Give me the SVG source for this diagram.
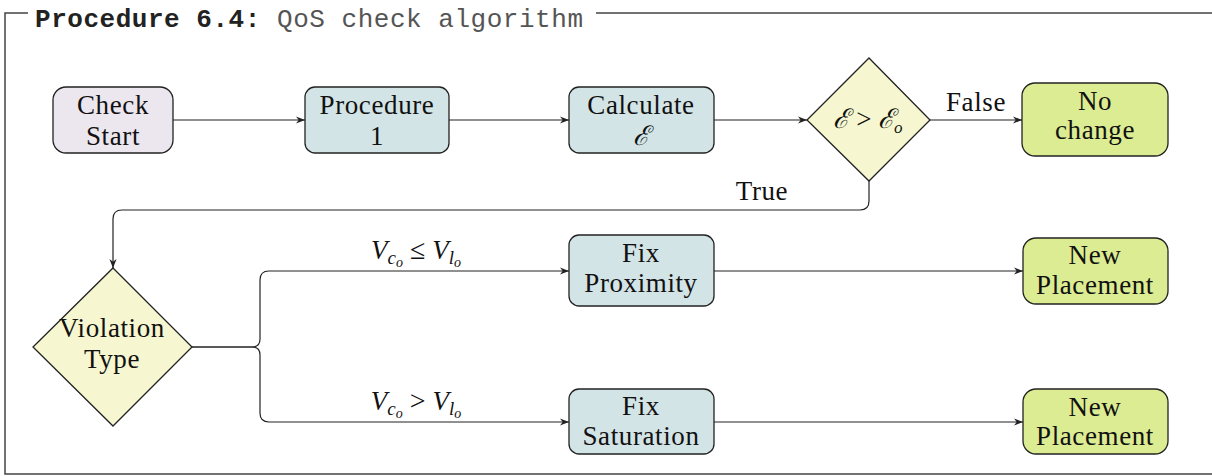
<svg xmlns="http://www.w3.org/2000/svg" width="1212" height="476" viewBox="0 0 1212 476">
<defs>
<marker id="arr" viewBox="0 0 10 10" refX="10" refY="5" markerWidth="9" markerHeight="9" markerUnits="userSpaceOnUse" orient="auto">
<path d="M0,1 L10,5 L0,9 L3,5 Z" fill="#222"/>
</marker>
<style>
.frame{stroke:#444;stroke-width:1.5;fill:none}
.box{stroke:#222;stroke-width:1.3}
.start{fill:#ece6ef}
.proc{fill:#d3e4e6}
.dec{fill:#f6f7d0}
.end{fill:#dcec92}
.edge{stroke:#222;stroke-width:1.2;fill:none}
.arrow{marker-end:url(#arr)}
.t{font-size:27px;fill:#111;text-anchor:middle;letter-spacing:0.6px}
.m{font-size:27px;fill:#111;text-anchor:middle;font-style:italic}
.title{font-size:26px}
</style>
</defs>
<rect width="1212" height="476" fill="#fff"/>
<g id="frame">
<path class="frame" d="M28,13 H5 V474 H1212 M596,13 H1212"/>
<text class="title" font-family="'Liberation Mono', monospace" x="35" y="27" textLength="548" lengthAdjust="spacing"><tspan font-weight="bold" fill="#222">Procedure 6.4:</tspan><tspan fill="#555"> QoS check algorithm</tspan></text>
</g>
<g id="connectors" font-family="'Liberation Serif', 'Times New Roman', serif">
<path class="edge arrow" d="M173,120 H305"/>
<path class="edge arrow" d="M449,120 H569"/>
<path class="edge arrow" d="M714,120 H807"/>
<path class="edge arrow" d="M930,120 H1022"/>
<path class="edge arrow" d="M869,181 V201 Q869,210 860,210 H122 Q113,210 113,219 V268"/>
<path class="edge arrow" d="M192,347 H252 Q260,347 260,339 V280 Q260,271 269,271 H569"/>
<path class="edge arrow" d="M192,347 H252 Q260,347 260,355 V413 Q260,422 269,422 H569"/>
<path class="edge arrow" d="M714,271 H1023"/>
<path class="edge arrow" d="M714,422 H1023"/>
<text class="t" x="976" y="111">False</text>
<text class="t" x="762" y="200">True</text>
<text class="m" x="416" y="259">V<tspan font-size="19" dy="5">c</tspan><tspan font-size="14" dy="3">o</tspan><tspan dy="-8" font-style="normal" font-size="28"> ≤ </tspan>V<tspan font-size="19" dy="5">l</tspan><tspan font-size="14" dy="3">o</tspan></text>
<text class="m" x="416" y="410">V<tspan font-size="19" dy="5">c</tspan><tspan font-size="14" dy="3">o</tspan><tspan dy="-8" font-style="normal" font-size="28"> &gt; </tspan>V<tspan font-size="19" dy="5">l</tspan><tspan font-size="14" dy="3">o</tspan></text>
</g>
<g id="nodes" font-family="'Liberation Serif', 'Times New Roman', serif">
<g id="check-start">
<rect class="box start" x="53" y="87" width="120" height="66" rx="13"/>
<text class="t" x="113" y="114">Check</text>
<text class="t" x="113" y="145">Start</text>
</g>
<g id="procedure-1">
<rect class="box proc" x="305" y="87" width="144" height="66" rx="10"/>
<text class="t" x="377" y="114">Procedure</text>
<text class="t" x="377" y="145">1</text>
</g>
<g id="calculate">
<rect class="box proc" x="569" y="87" width="145" height="66" rx="10"/>
<text class="t" x="641" y="114">Calculate</text>
<text class="m" x="641" y="145">ℰ</text>
</g>
<g id="decision-e">
<polygon class="box dec" points="869,58 930,120 869,181 807,120"/>
<text class="m" x="868" y="128">ℰ<tspan font-style="normal"> &gt; </tspan>ℰ<tspan font-size="17" dy="5">o</tspan></text>
</g>
<g id="no-change">
<rect class="box end" x="1022" y="83" width="146" height="73" rx="13"/>
<text class="t" x="1095" y="110">No</text>
<text class="t" x="1095" y="139">change</text>
</g>
<g id="violation-type">
<polygon class="box dec" points="113,268 192,347 113,426 33,347"/>
<text class="t" x="112" y="337">Violation</text>
<text class="t" x="112" y="368">Type</text>
</g>
<g id="fix-proximity">
<rect class="box proc" x="569" y="235" width="145" height="71" rx="10"/>
<text class="t" x="641" y="262">Fix</text>
<text class="t" x="641" y="292">Proximity</text>
</g>
<g id="new-placement-1">
<rect class="box end" x="1023" y="238" width="145" height="66" rx="13"/>
<text class="t" x="1095" y="264">New</text>
<text class="t" x="1095" y="294">Placement</text>
</g>
<g id="fix-saturation">
<rect class="box proc" x="569" y="389" width="145" height="65" rx="10"/>
<text class="t" x="641" y="415">Fix</text>
<text class="t" x="641" y="445">Saturation</text>
</g>
<g id="new-placement-2">
<rect class="box end" x="1023" y="389" width="145" height="65" rx="13"/>
<text class="t" x="1095" y="416">New</text>
<text class="t" x="1095" y="445">Placement</text>
</g>
</g>
</svg>
